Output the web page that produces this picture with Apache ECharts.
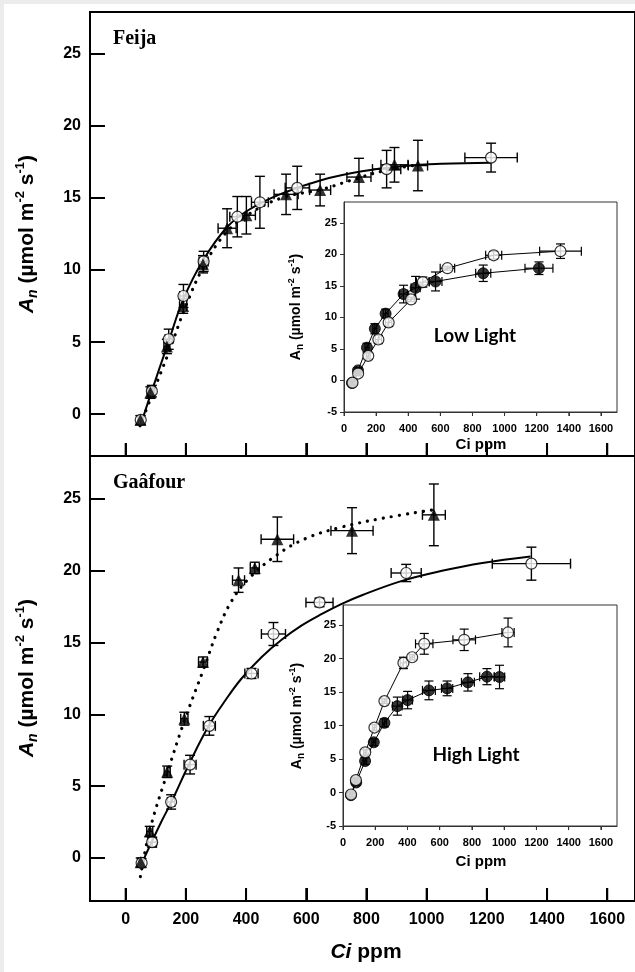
<!DOCTYPE html>
<html><head><meta charset="utf-8">
<script src="https://cdn.jsdelivr.net/npm/echarts@6/dist/echarts.min.js"></script>
<style>
html,body{margin:0;padding:0;background:#ececec;}
#bg{position:absolute;left:4px;top:4px;width:631px;height:968px;background:#fff;}
#chart{position:absolute;left:0;top:0;width:635px;height:972px;}
</style></head><body><div id="bg"></div><div id="chart"></div>
<script>
// ---- data: [Ci, An, Ci error, An error] ----
const feijaLow = [
  [50,-0.4,8,0.3],[87,1.6,10,0.4],[143,5.2,12,0.7],[192,8.2,12,0.8],[259,10.6,15,0.7],
  [371,13.7,25,1.4],[446,14.7,28,1.8],[570,15.7,40,1.5],[867,17.0,47,1.3],[1214,17.8,87,1.0]
];
const feijaHigh = [
  [49,-0.4,8,0.3],[82,1.5,10,0.4],[137,4.7,10,0.5],[191,7.5,12,0.5],[257,10.4,12,0.6],
  [337,12.9,30,1.35],[401,13.8,30,1.3],[533,15.25,40,1.4],[646,15.55,35,1.1],
  [775,16.45,40,1.3],[893,17.3,45,1.2],[971,17.25,32,1.75]
];
const gaafourLow = [
  [53,-0.35,8,0.3],[88,1.1,14,0.35],[151,3.9,12,0.5],[214,6.5,20,0.65],[278,9.2,20,0.65],
  [418,12.85,22,0.35],[491,15.6,40,0.8],[644,17.8,45,0.3],[932,19.85,50,0.6],[1348,20.5,130,1.15]
];
const gaafourHigh = [
  [50,-0.3,8,0.3],[80,1.85,10,0.35],[138,6.0,10,0.4],[195,9.7,12,0.45],[257,13.65,15,0.35],
  [375,19.35,20,0.85],[429,20.2,15,0.4],[504,22.2,54,1.55],[752,22.8,70,1.6],[1024,23.9,38,2.15]
];
// fitted curves
const feijaLowFit = [[52,-0.6],[85,1.5],[142,5.0],[192,8.0],[258,10.7],[338,13.0],[411,14.2],[518,15.3],[652,16.25],[785,16.85],[918,17.2],[1051,17.37],[1214,17.45]];
const feijaHighFit = [[48,-0.8],[85,1.2],[145,4.4],[198,7.4],[258,10.2],[332,12.55],[411,13.9],[518,15.0],[652,15.6],[745,16.2],[851,16.85],[971,17.3]];
const gaafourLowFit = [[53,-0.4],[118,2.5],[152,3.9],[212,6.6],[276,9.2],[332,11.0],[385,12.5],[452,14.0],[518,15.2],[585,16.2],[652,17.0],[718,17.7],[785,18.3],[918,19.3],[1051,20.0],[1185,20.55],[1345,21.0]];
const gaafourHighFit = [[49,-1.3],[81,2.0],[138,5.9],[196,9.6],[258,13.1],[305,15.8],[352,17.9],[411,19.5],[502,21.1],[598,22.25],[718,23.05],[851,23.65],[1021,24.25]];
// tick labels
const mainXTicks = [0,200,400,600,800,1000,1200,1400,1600];
const mainYTicks = [0,5,10,15,20,25];
const insetXTicks = [0,200,400,600,800,1000,1200,1400,1600];
const insetYTicks = [-5,0,5,10,15,20,25];

const SANS = 'Arial, "Liberation Sans", sans-serif';
const chart = echarts.init(document.getElementById('chart'), null, {renderer:'canvas'});
const plain = v => String(v);
const yMin = [-2.9, -3, -5, -5];
const yMax = [27.9, 28, 28.3, 28];
const gridH = [444, 445, 210, 221];

function xy(arr){ return arr.map(d => [d[0], d[1]]); }
function errSeries(data, idx, cap, lw, z){
  return {type:'custom', xAxisIndex:idx, yAxisIndex:idx, data:data, z:z, silent:true, clip:false,
    encode:{x:0, y:1},
    renderItem:function(params, api){
      const x=api.value(0), y=api.value(1), ex=api.value(2), ey=api.value(3);
      const p=api.coord([x,y]), t=api.coord([x,y+ey]), b=api.coord([x,y-ey]);
      const l=api.coord([x-ex,y]), r=api.coord([x+ex,y]);
      const st={stroke:'#000', lineWidth:lw, fill:null};
      const ch=[
        {type:'line', shape:{x1:p[0],y1:t[1],x2:p[0],y2:b[1]}, style:st},
        {type:'line', shape:{x1:p[0]-cap,y1:t[1],x2:p[0]+cap,y2:t[1]}, style:st},
        {type:'line', shape:{x1:p[0]-cap,y1:b[1],x2:p[0]+cap,y2:b[1]}, style:st}
      ];
      if (ex > 0){
        ch.push({type:'line', shape:{x1:l[0],y1:p[1],x2:r[0],y2:p[1]}, style:st});
        ch.push({type:'line', shape:{x1:l[0],y1:p[1]-cap,x2:l[0],y2:p[1]+cap}, style:st});
        ch.push({type:'line', shape:{x1:r[0],y1:p[1]-cap,x2:r[0],y2:p[1]+cap}, style:st});
      }
      return {type:'group', children:ch};
    }};
}
// x tick marks: vertical segments in data space (length converted from px)
function xTickSeries(idx, ticks, lenPx, lw, color, outward, z){
  const du = lenPx * (yMax[idx]-yMin[idx]) / gridH[idx];
  const y0 = yMin[idx], y1 = outward ? yMin[idx]-du : yMin[idx]+du;
  return {type:'custom', xAxisIndex:idx, yAxisIndex:idx, z:z, silent:true, clip:false,
    data:ticks.slice().map(v=>[v, y0, y1]),
    encode:{x:0, y:1},
    renderItem:function(params, api){
      const a = api.coord([api.value(0), api.value(1)]);
      const b = api.coord([api.value(0), api.value(2)]);
      return {type:'group', children:[
        {type:'line', shape:{x1:a[0], y1:a[1], x2:b[0], y2:b[1]}, style:{stroke:color, lineWidth:lw, fill:null}}]};
    }};
}
function fit(data, idx, dotted){
  return {type:'line', xAxisIndex:idx, yAxisIndex:idx, data:data, smooth:0.4,
    showSymbol:false, symbol:'none', z:2, silent:true,
    lineStyle: dotted ? {color:'#000', width:3.2, type:[0.1,8], cap:'round'} : {color:'#000', width:2}};
}
function marks(data, idx, kind, z, size){
  const s = {type:'scatter', xAxisIndex:idx, yAxisIndex:idx, data:xy(data), z:z, silent:true};
  if (kind==='open'){ s.symbol='circle'; s.symbolSize=size; s.itemStyle={color:'#fff', borderColor:'#000', borderWidth:1.2}; }
  else if (kind==='tri'){ s.symbol='triangle'; s.symbolSize=size; s.itemStyle={color:'#000'}; }
  else { s.symbol='circle'; s.symbolSize=size; s.itemStyle={color:'#000', borderColor:'#000', borderWidth:1}; }
  return s;
}
function connect(data, idx){
  return {type:'line', xAxisIndex:idx, yAxisIndex:idx, data:xy(data), showSymbol:false, symbol:'none',
    lineStyle:{color:'#000', width:1}, z:12, silent:true};
}

function mainX(idx, showLabels){
  return {type:'value', gridIndex:idx, min:-118.5, max:1692.2, position:'bottom', z:3,
    axisLine:{show:true, onZero:false, lineStyle:{color:'#000', width:2}}, splitLine:{show:false},
    axisTick:{show:true, inside:true, length:13, lineStyle:{color:'#000', width:2}, customValues:mainXTicks.slice()},
    axisLabel:{show:showLabels, margin:11, color:'#000', fontFamily:SANS, fontWeight:'bold', fontSize:16, customValues:mainXTicks.slice(), formatter:plain}};
}
function mainY(idx){
  return {type:'value', gridIndex:idx, min:yMin[idx], max:yMax[idx], z:3,
    axisLine:{show:true, onZero:false, lineStyle:{color:'#000', width:2}}, splitLine:{show:false},
    axisTick:{show:true, inside:true, length:15, lineStyle:{color:'#000', width:2}, customValues:mainYTicks.slice()},
    axisLabel:{show:true, margin:9, color:'#000', fontFamily:SANS, fontWeight:'bold', fontSize:16, customValues:mainYTicks.slice(), formatter:plain}};
}
function insetX(idx){
  return {type:'value', gridIndex:idx, min:0, max:1700, z:11,
    axisLine:{show:true, onZero:false, lineStyle:{color:'#333', width:1}}, splitLine:{show:false},
    axisTick:{show:true, inside:false, length:4, lineStyle:{color:'#333', width:1}, customValues:insetXTicks.slice()},
    axisLabel:{show:true, margin:11, color:'#000', fontFamily:SANS, fontWeight:'bold', fontSize:11, customValues:insetXTicks.slice(), formatter:plain}};
}
function insetY(idx){
  return {type:'value', gridIndex:idx, min:yMin[idx], max:yMax[idx], z:11,
    axisLine:{show:true, onZero:false, lineStyle:{color:'#333', width:1}}, splitLine:{show:false},
    axisTick:{show:true, inside:false, length:4, lineStyle:{color:'#333', width:1}, customValues:insetYTicks.slice()},
    axisLabel:{show:true, margin:7, color:'#000', fontFamily:SANS, fontWeight:'bold', fontSize:11, customValues:insetYTicks.slice(), formatter:plain}};
}

function anRich(big, sub, sup, lh, italic){
  return {
    text:'{a|A}{n|n}{r| (µmol m}{s|-2}{r| s}{s|-1}{r|)}',
    rich:{
      a:{fontFamily:SANS, fontWeight:'bold', fontStyle: italic?'italic':'normal', fontSize:big, lineHeight:lh, fill:'#000'},
      n:{fontFamily:SANS, fontWeight:'bold', fontStyle: italic?'italic':'normal', fontSize:sub, lineHeight:sub, padding:[lh-sub,0,0,0], fill:'#000'},
      r:{fontFamily:SANS, fontWeight:'bold', fontSize:big, lineHeight:lh, fill:'#000'},
      s:{fontFamily:SANS, fontWeight:'bold', fontSize:sup, lineHeight:sup, padding:[0,0,lh-sup,0], fill:'#000'}
    },
    align:'center', verticalAlign:'middle'
  };
}

const texts = [
  {type:'text', x:113, y:39, z:20, style:{text:'Feija', font:'bold 20px "Liberation Serif", "Times New Roman", serif', fill:'#000', align:'left', verticalAlign:'middle'}},
  {type:'text', x:113, y:483, z:20, style:{text:'Gaâfour', font:'bold 20px "Liberation Serif", "Times New Roman", serif', fill:'#000', align:'left', verticalAlign:'middle'}},
  {type:'text', x:27, y:234, rotation:Math.PI/2, z:20, style:anRich(21,14,13,26,true)},
  {type:'text', x:27, y:678, rotation:Math.PI/2, z:20, style:anRich(21,14,13,26,true)},
  {type:'text', x:296, y:307, rotation:Math.PI/2, z:20, style:anRich(14,10,9,18,false)},
  {type:'text', x:297, y:716, rotation:Math.PI/2, z:20, style:anRich(14,10,9,18,false)},
  {type:'text', x:366, y:952, z:20, style:{text:'{i|Ci}{r| ppm}', rich:{
      i:{fontFamily:SANS, fontWeight:'bold', fontStyle:'italic', fontSize:21, fill:'#000'},
      r:{fontFamily:SANS, fontWeight:'bold', fontSize:21, fill:'#000'}}, align:'center', verticalAlign:'middle'}},
  {type:'text', x:481, y:445, z:20, style:{text:'Ci ppm', font:'bold 15px Arial, "Liberation Sans", sans-serif', fill:'#000', align:'center', verticalAlign:'middle'}},
  {type:'text', x:481, y:862, z:20, style:{text:'Ci ppm', font:'bold 15px Arial, "Liberation Sans", sans-serif', fill:'#000', align:'center', verticalAlign:'middle'}},
  {type:'text', x:475, y:336, z:20, style:{text:'Low Light', font:'bold 19px Lato, "Open Sans", sans-serif', fill:'#000', align:'center', verticalAlign:'middle'}},
  {type:'text', x:476, y:755, z:20, style:{text:'High Light', font:'bold 19px Lato, "Open Sans", sans-serif', fill:'#000', align:'center', verticalAlign:'middle'}}
];

const option = {
  animation:false,
  backgroundColor:'transparent',
  grid:[
    {left:90, top:12, width:550, height:444, show:true, borderColor:'#000', borderWidth:2, backgroundColor:'transparent', z:0},
    {left:90, top:456, width:550, height:445, show:true, borderColor:'#000', borderWidth:2, backgroundColor:'transparent', z:0},
    {left:344, top:202, width:273, height:210, show:true, borderColor:'#333', borderWidth:1, backgroundColor:'#fff', z:10},
    {left:343, top:605, width:274, height:221, show:true, borderColor:'#333', borderWidth:1, backgroundColor:'#fff', z:10}
  ],
  xAxis:[ mainX(0,false), mainX(1,true), insetX(2), insetX(3) ],
  yAxis:[ mainY(0), mainY(1), insetY(2), insetY(3) ],
  series:[
    fit(feijaLowFit,0,false), fit(feijaHighFit,0,true),
    errSeries(feijaLow,0,5,1.4,3), errSeries(feijaHigh,0,5,1.4,3),
    marks(feijaLow,0,'open',4,11), marks(feijaHigh,0,'tri',5,12),
    fit(gaafourLowFit,1,false), fit(gaafourHighFit,1,true),
    errSeries(gaafourLow,1,5,1.4,3), errSeries(gaafourHigh,1,5,1.4,3),
    marks(gaafourLow,1,'open',4,11), marks(gaafourHigh,1,'tri',5,12),
    connect(feijaLow,2), connect(gaafourLow,2),
    errSeries(feijaLow,2,4.5,1.2,13), errSeries(gaafourLow,2,4.5,1.2,13),
    marks(feijaLow,2,'filled',14,11), marks(gaafourLow,2,'open',15,11),
    connect(feijaHigh,3), connect(gaafourHigh,3),
    errSeries(feijaHigh,3,4.5,1.2,13), errSeries(gaafourHigh,3,4.5,1.2,13),
    marks(feijaHigh,3,'filled',14,11), marks(gaafourHigh,3,'open',15,11),
    xTickSeries(0, mainXTicks, 13, 2, '#000', false, 8),
    xTickSeries(1, mainXTicks, 13, 2, '#000', false, 8),
    xTickSeries(2, insetXTicks, 4, 1, '#333', true, 18),
    xTickSeries(3, insetXTicks, 4, 1, '#333', true, 18)
  ],
  graphic: texts
};
chart.setOption(option);
</script></body></html>
